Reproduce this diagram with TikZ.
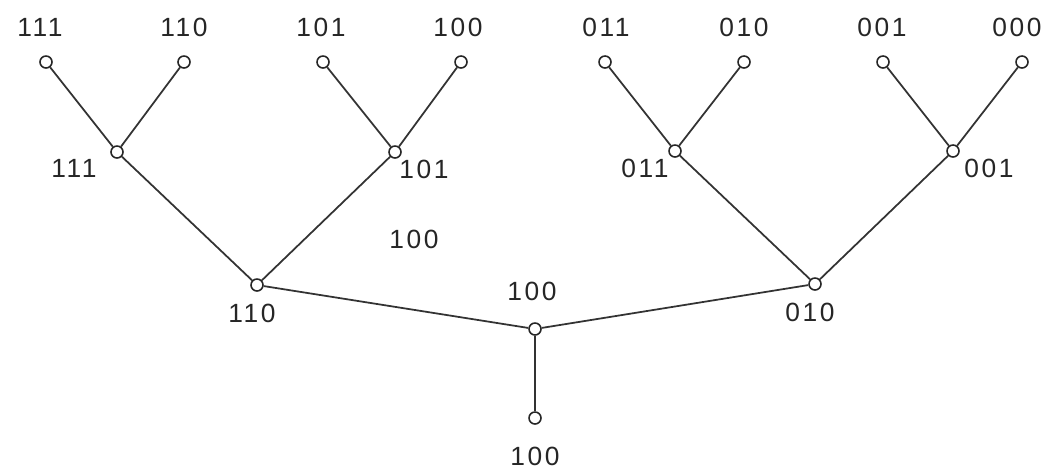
\documentclass[tikz,border=0pt]{standalone}
\usepackage{fontspec}
\setmainfont{Liberation Sans}
\usetikzlibrary{positioning}

\begin{document}
\begin{tikzpicture}[
  x=0.02cm, y=-0.02cm,
  font=\fontsize{15}{17}\selectfont\addfontfeature{LetterSpace=10},
  vtx/.style={draw=black!85, circle, fill=white, line width=0.9pt,
    minimum size=0.24cm, inner sep=0pt},
  edge/.style={draw=black!80, line width=1pt},
  lab/.style={inner sep=0pt, text=black!85},
]
\useasboundingbox (0,0) rectangle (1054,471);
% leaves
\node[vtx] (l1) at (46,62) {};
\node[vtx] (l2) at (184,62) {};
\node[vtx] (l3) at (323,62) {};
\node[vtx] (l4) at (461,62) {};
\node[vtx] (l5) at (605,62) {};
\node[vtx] (l6) at (744,62) {};
\node[vtx] (l7) at (883,62) {};
\node[vtx] (l8) at (1022,62) {};
% second level
\node[vtx] (m1) at (117,152) {};
\node[vtx] (m2) at (395,152) {};
\node[vtx] (m3) at (675,151) {};
\node[vtx] (m4) at (953,151) {};
% third level
\node[vtx] (n1) at (257,285) {};
\node[vtx] (n2) at (815,284) {};
% root and stem
\node[vtx] (root) at (535,329) {};
\node[vtx] (stem) at (535,418) {};
% labels
\node[lab] (t1) at (40,27) {111};
\node[lab] (t2) at (184,27) {110};
\node[lab] (t3) at (321,27) {101};
\node[lab] (t4) at (458,27) {100};
\node[lab] (t5) at (606,27) {011};
\node[lab] (t6) at (744,27) {010};
\node[lab] (t7) at (882,27) {001};
\node[lab] (t8) at (1017,27) {000};
\node[lab] (s1) at (74,168) {111};
\node[lab] (s2) at (424,169) {101};
\node[lab] (s3) at (645,168) {011};
\node[lab] (s4) at (989,168) {001};
\node[lab] (u1) at (252,313) {110};
\node[lab] (u2) at (810,312) {010};
\node[lab] (rt) at (532,291) {100};
\node[lab] (st) at (535,456) {100};
\node[lab] (free) at (414,239) {100};
% edges
\draw[edge] (l1) -- (m1) -- (l2);
\draw[edge] (l3) -- (m2) -- (l4);
\draw[edge] (l5) -- (m3) -- (l6);
\draw[edge] (l7) -- (m4) -- (l8);
\draw[edge] (m1) -- (n1) -- (m2);
\draw[edge] (m3) -- (n2) -- (m4);
\draw[edge] (n1) -- (root) -- (n2);
\draw[edge] (root) -- (stem);
\end{tikzpicture}
\end{document}
